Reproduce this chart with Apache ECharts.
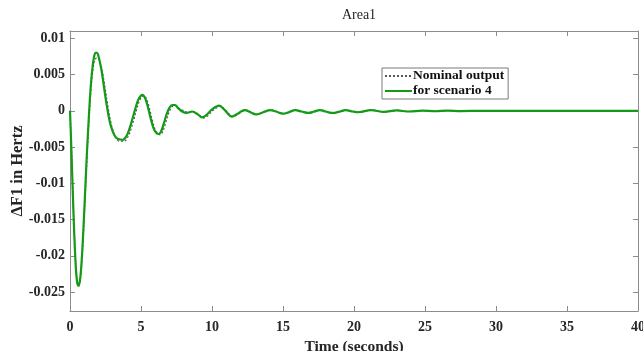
<!DOCTYPE html>
<html>
<head>
<meta charset="utf-8">
<script src="https://cdn.jsdelivr.net/npm/echarts@6/dist/echarts.min.js"></script>
<style>
html,body{margin:0;padding:0;background:#fff;}
#c{width:643px;height:351px;}
</style>
</head>
<body>
<div id="c"></div>
<script>
// ---- data ----
const scenarioT = [0,0.1,0.2,0.3,0.4,0.5,0.6,0.7,0.8,0.9,1.0,1.1,1.2,1.3,1.4,1.5,1.6,1.7,1.8,1.9,2.0,2.2,2.4,2.6,2.8,3.0,3.2,3.4,3.7,4.0,4.2,4.4,4.6,4.8,5.0,5.1,5.3,5.5,5.7,5.9,6.1,6.25,6.4,6.6,6.8,7.0,7.2,7.4,7.6,7.9,8.2,8.6,9.0,9.3,9.6,10.0,10.5,10.9,11.4,11.8,12.3,12.7,13.1,13.6,14.1,14.5,15.0,15.4,15.85,16.3,16.8,17.2,17.6,18.0,18.5,19.0,19.4,19.9,20.3,21.2,22.1,23.0,23.9,24.8,25.7,26.6,27.5,29,40];
const scenarioV = [0,-0.0055,-0.0115,-0.0170,-0.0212,-0.0236,-0.0241,-0.0234,-0.0213,-0.0180,-0.0140,-0.0097,-0.0055,-0.0018,0.0016,0.0043,0.0062,0.0075,0.0080,0.0080,0.0076,0.0058,0.0032,0.0006,-0.0015,-0.0028,-0.0036,-0.0039,-0.0040,-0.0034,-0.0024,-0.0011,0.0003,0.0015,0.0021,0.0022,0.0017,0.0004,-0.0012,-0.0025,-0.0031,-0.0032,-0.0029,-0.0018,-0.0005,0.0004,0.0008,0.0008,0.0004,-0.0001,-0.0003,-0.0001,-0.0005,-0.0009,-0.0006,0.0002,0.0007,0.0001,-0.0008,-0.0004,0.0001,-0.0002,-0.0005,-0.0002,0.0001,-0.0001,-0.0004,-0.0002,0.0001,-0.0001,-0.0003,-0.0001,0.0001,-0.0001,-0.0003,-0.0001,0.0001,-0.0001,-0.0002,0.0001,-0.00015,0.00005,-0.0001,0.00003,-0.00006,0.00002,-0.00004,0,0];

const nominalT = [0,0.1,0.2,0.3,0.4,0.5,0.6,0.7,0.8,0.9,1.0,1.1,1.2,1.3,1.4,1.5,1.6,1.7,1.8,1.95,2.1,2.3,2.5,2.7,2.9,3.1,3.3,3.5,3.8,4.1,4.3,4.5,4.7,4.9,5.1,5.2,5.4,5.6,5.8,6.0,6.2,6.35,6.5,6.7,6.9,7.1,7.3,7.5,7.7,8.0,8.3,8.7,9.1,9.4,9.7,10.1,10.6,11.0,11.5,11.9,12.4,12.8,13.2,13.7,14.2,14.6,15.1,15.5,15.95,16.4,16.9,17.3,17.7,18.1,18.6,19.1,19.5,20.0,20.4,21.3,22.2,23.1,24.0,24.9,25.8,26.7,27.6,29,40];
const nominalV = [0,-0.0050,-0.0110,-0.0166,-0.0210,-0.0235,-0.0242,-0.0236,-0.0217,-0.0186,-0.0147,-0.0105,-0.0063,-0.0026,0.0008,0.0036,0.0055,0.0067,0.0072,0.0073,0.0068,0.0052,0.0028,0.0003,-0.0018,-0.0031,-0.0039,-0.0042,-0.0042,-0.0035,-0.0025,-0.0012,0.0002,0.0014,0.0020,0.0021,0.0016,0.0003,-0.0013,-0.0026,-0.0032,-0.0033,-0.0030,-0.0019,-0.0006,0.0003,0.0007,0.0007,0.0003,0.0000,-0.0002,-0.0001,-0.0006,-0.0010,-0.0007,0.0001,0.0006,0.0000,-0.0008,-0.0004,0.0001,-0.0002,-0.0005,-0.0002,0.0001,-0.0001,-0.0004,-0.0002,0.0001,-0.0001,-0.0003,-0.0001,0.0001,-0.0001,-0.0003,-0.0001,0.0001,-0.0001,-0.0002,0.0001,-0.00015,0.00005,-0.0001,0.00003,-0.00006,0.00002,-0.00004,0,0];

const yTicks = [-0.025,-0.02,-0.015,-0.01,-0.005,0,0.005,0.01];
const yTickLabels = ['-0.025','-0.02','-0.015','-0.01','-0.005','0','0.005','0.01'];
const xTicks = [0,5,10,15,20,25,30,35,40];

const titleText = 'Area1';
const xName = 'Time (seconds)';
const yName = '\u0394F1 in Hertz';
const seriesNames = ['Nominal output', 'for scenario 4'];

// ---- chart ----
const zip = (a, b) => a.map((t, i) => [t, b[i]]);
const FONT = '"Liberation Serif", "Times New Roman", serif';
const AX = '#8c8c8c';
const TXT = '#262626';

const chart = echarts.init(document.getElementById('c'), null, {renderer: 'canvas'});

function yFmt(v) {
  for (let i = 0; i < yTicks.length; i++) {
    if (Math.abs(yTicks[i] - v) < 1e-9) return yTickLabels[i];
  }
  return '';
}

const lineOff = {show: true, onZero: false, lineStyle: {color: AX, width: 1}};
const tickIn = (vals) => ({show: true, inside: true, length: 5, lineStyle: {color: AX}, customValues: vals});

chart.setOption({
  animation: false,
  backgroundColor: '#ffffff',
  title: {
    text: titleText,
    left: 354, top: 3,
    textAlign: 'center',
    textStyle: {fontFamily: FONT, fontSize: 14, fontWeight: 'normal', color: TXT}
  },
  legend: {
    orient: 'vertical',
    left: 382, top: 68,
    width: 125,
    padding: [1, 4, 1, 2],
    itemGap: 1,
    itemWidth: 27,
    itemHeight: 12,
    backgroundColor: '#ffffff',
    borderColor: '#7a7a7a',
    borderWidth: 1,
    itemStyle: {opacity: 0},
    textStyle: {fontFamily: FONT, fontSize: 13.5, fontWeight: 'bold', color: '#111', padding: [0,0,0,-4]},
    data: seriesNames
  },
  grid: {left: 70, right: 5, top: 31, bottom: 40, outerBoundsMode: 'none', containLabel: false},
  xAxis: [{
    type: 'value', min: 0, max: 40, interval: 5,
    name: xName, nameLocation: 'middle', nameGap: 28, nameMoveOverlap: false,
    nameTextStyle: {fontFamily: FONT, fontSize: 15.5, fontWeight: 'bold', color: TXT},
    axisLabel: {fontFamily: FONT, fontSize: 14, fontWeight: 'bold', color: TXT, margin: 9,
      customValues: xTicks},
    axisLine: lineOff,
    axisTick: tickIn(xTicks),
    splitLine: {show: false}
  }, {
    type: 'value', min: 0, max: 40, interval: 5, position: 'top',
    axisLabel: {show: false},
    axisLine: lineOff,
    axisTick: tickIn(xTicks),
    splitLine: {show: false}
  }],
  yAxis: [{
    type: 'value', min: -0.0276, max: 0.011,
    name: yName, nameLocation: 'middle', nameGap: 44, nameMoveOverlap: false,
    nameTextStyle: {fontFamily: FONT, fontSize: 16.5, fontWeight: 'bold', color: TXT},
    axisLabel: {fontFamily: FONT, fontSize: 14, fontWeight: 'bold', color: TXT, margin: 5,
      customValues: yTicks, formatter: yFmt},
    axisLine: lineOff,
    axisTick: tickIn(yTicks),
    splitLine: {show: false}
  }, {
    type: 'value', min: -0.0276, max: 0.011, position: 'right',
    axisLabel: {show: false},
    axisLine: lineOff,
    axisTick: tickIn(yTicks),
    splitLine: {show: false}
  }],
  series: [{
    name: seriesNames[0],
    type: 'line',
    data: zip(nominalT, nominalV),
    symbol: 'none',
    smooth: 0.35,
    lineStyle: {color: '#555555', width: 1.2, type: [2, 2]},
    itemStyle: {color: '#555555'},
    z: 2
  }, {
    name: seriesNames[1],
    type: 'line',
    data: zip(scenarioT, scenarioV),
    symbol: 'none',
    smooth: 0.35,
    lineStyle: {color: '#139a17', width: 2.2},
    itemStyle: {color: '#139a17'},
    z: 3
  }]
});
</script>
</body>
</html>
